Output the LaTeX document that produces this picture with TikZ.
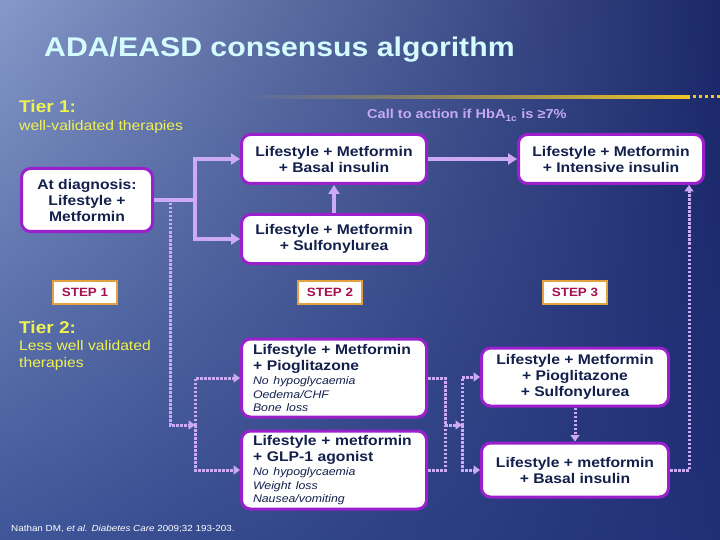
\documentclass[tikz,border=0pt]{standalone}
\usepackage{fontspec}
\setmainfont{Liberation Sans}[FakeStretch=1.12]
\usetikzlibrary{arrows.meta, positioning, calc, fadings, shadings}

\definecolor{bgtl}{RGB}{134,152,200}
\definecolor{bgtr}{RGB}{26,40,104}
\definecolor{bgbl}{RGB}{62,86,152}
\definecolor{bgbr}{RGB}{32,46,118}
\definecolor{headc}{RGB}{212,252,255}
\definecolor{tierc}{RGB}{240,242,80}
\definecolor{callc}{RGB}{196,170,240}
\definecolor{boxline}{RGB}{154,32,204}
\definecolor{linkc}{RGB}{204,170,244}
\definecolor{stepline}{RGB}{226,162,64}
\definecolor{stepc}{RGB}{164,16,80}
\definecolor{navy}{RGB}{20,32,76}
\definecolor{goldc}{RGB}{240,200,40}

\tikzfading[name=fadein, left color=transparent!100, right color=transparent!0]

\newcommand{\sidefx}[1]{{\fontsize{11}{13}\selectfont\mdseries\itshape #1}}

\begin{document}
\begin{tikzpicture}[x=1pt, y=-1pt, node distance=28pt,
    box/.style={draw=boxline, line width=3pt, fill=white, rounded corners=9pt, text=navy,
        font=\fontsize{14}{16}\selectfont\bfseries, align=center,
        minimum width=185pt, minimum height=49pt, inner sep=3pt},
    notebox/.style={box, align=left, text width=162pt, minimum height=78pt},
    stepbox/.style={draw=stepline, line width=2pt, fill=white, text=stepc,
        font=\fontsize{12}{14}\selectfont\bfseries, minimum width=64pt, minimum height=23pt},
    tier/.style={text=tierc, anchor=base west, inner sep=0pt, align=left},
    solidlink/.style={linkc, line width=4pt, -{Triangle[width=11pt,length=9pt]}},
    dotplain/.style={linkc, line width=3pt, dash pattern=on 2.5pt off 1.5pt},
    dotlink/.style={dotplain, -{Triangle[width=9pt,length=6.5pt]}}]

    \useasboundingbox (0,0) rectangle (720,540);
    \shade[upper left=bgtl, upper right=bgtr, lower left=bgbl, lower right=bgbr] (0,0) rectangle (720,540);

    \fill[goldc, path fading=fadein] (240,95) rectangle (690,99);
    \draw[goldc, line width=3pt, dash pattern=on 3pt off 3pt] (693,97) -- (720,97);

    \node (head) [anchor=base west, inner sep=0pt, text=headc, font=\fontsize{27}{30}\selectfont\bfseries] at (44,57) {ADA/EASD consensus algorithm};

    \node (tier1) [tier, font=\fontsize{17}{20}\selectfont\bfseries] at (19,113) {Tier 1:};
    \node (tier1sub) [tier, font=\fontsize{14}{17}\selectfont] at (19,131) {well-validated therapies};
    \node (tier2) [tier, font=\fontsize{17}{20}\selectfont\bfseries] at (19,333) {Tier 2:};
    \node (tier2sub) [tier, font=\fontsize{14}{17}\selectfont] at (19,367) {Less well validated\\therapies};

    \node (call) [anchor=base west, inner sep=0pt, text=callc, font=\fontsize{13}{15}\selectfont\bfseries] at (367,119) {Call to action if HbA\textsubscript{1c} is ≥7\%};

    \node (diag) [box, minimum width=131pt, minimum height=63pt] at (87,200) {At diagnosis:\\Lifestyle +\\Metformin};
    \node (bas) [box] at (334,159) {Lifestyle + Metformin\\+ Basal insulin};
    \node (int) [box, right=89pt of bas] {Lifestyle + Metformin\\+ Intensive insulin};
    \node (sul) [box, below=of bas] {Lifestyle + Metformin\\+ Sulfonylurea};

    \node (step1) [stepbox] at (85,292) {STEP 1};
    \node (step2) [stepbox] at (330,292) {STEP 2};
    \node (step3) [stepbox] at (575,292) {STEP 3};

    \node (pio) [notebox, inner ysep=1pt] at (334,378) {Lifestyle + Metformin\\+ Pioglitazone\\[-1.5pt]\sidefx{No hypoglycaemia}\\[-2.5pt]\sidefx{Oedema/CHF}\\[-2.5pt]\sidefx{Bone loss}};
    \node (glp) [notebox, inner ysep=1pt, below=11pt of pio] {Lifestyle + metformin\\+ GLP-1 agonist\\[-1.5pt]\sidefx{No hypoglycaemia}\\[-2.5pt]\sidefx{Weight loss}\\[-2.5pt]\sidefx{Nausea/vomiting}};
    \node (pios) [box, minimum width=187pt, minimum height=58pt] at (575,377) {Lifestyle + Metformin\\+ Pioglitazone\\+ Sulfonylurea};
    \node (basm) [box, minimum width=187pt, minimum height=54pt, below=34pt of pios] {Lifestyle + metformin\\+ Basal insulin};

    \node (cite) [anchor=base west, inner sep=0pt, text=white, font=\fontsize{8.8}{10}\selectfont] at (11,531) {Nathan DM, \textit{et al.} \textit{Diabetes Care} 2009;32 193-203.};

    \draw[solidlink] (diag.east) -- ++(41,0) |- (bas.west);
    \draw[solidlink] (diag.east) -- ++(41,0) |- (sul.west);
    \draw[solidlink] (sul) -- (bas);
    \draw[solidlink] (bas) -- (int);

    \coordinate (t2a) at (195,425);
    \coordinate (j2) at (445,425);
    \coordinate (t2b) at (462,425);
    \draw[dotlink] ($(diag.east)+(16,3)$) |- (t2a);
    \draw[dotlink] (t2a) |- (pio.west);
    \draw[dotlink] (t2a) |- (glp.west);
    \draw[dotplain] (pio.east) -| (j2);
    \draw[dotplain] (glp.east) -| (j2);
    \draw[dotlink] (j2) -- (t2b);
    \draw[dotlink] (t2b) |- (pios.west);
    \draw[dotlink] (t2b) |- (basm.west);
    \draw[dotlink] (pios) -- (basm);
    \draw[dotlink] (basm.east) -| ($(int.south east)+(-16,0)$);

\end{tikzpicture}
\end{document}
